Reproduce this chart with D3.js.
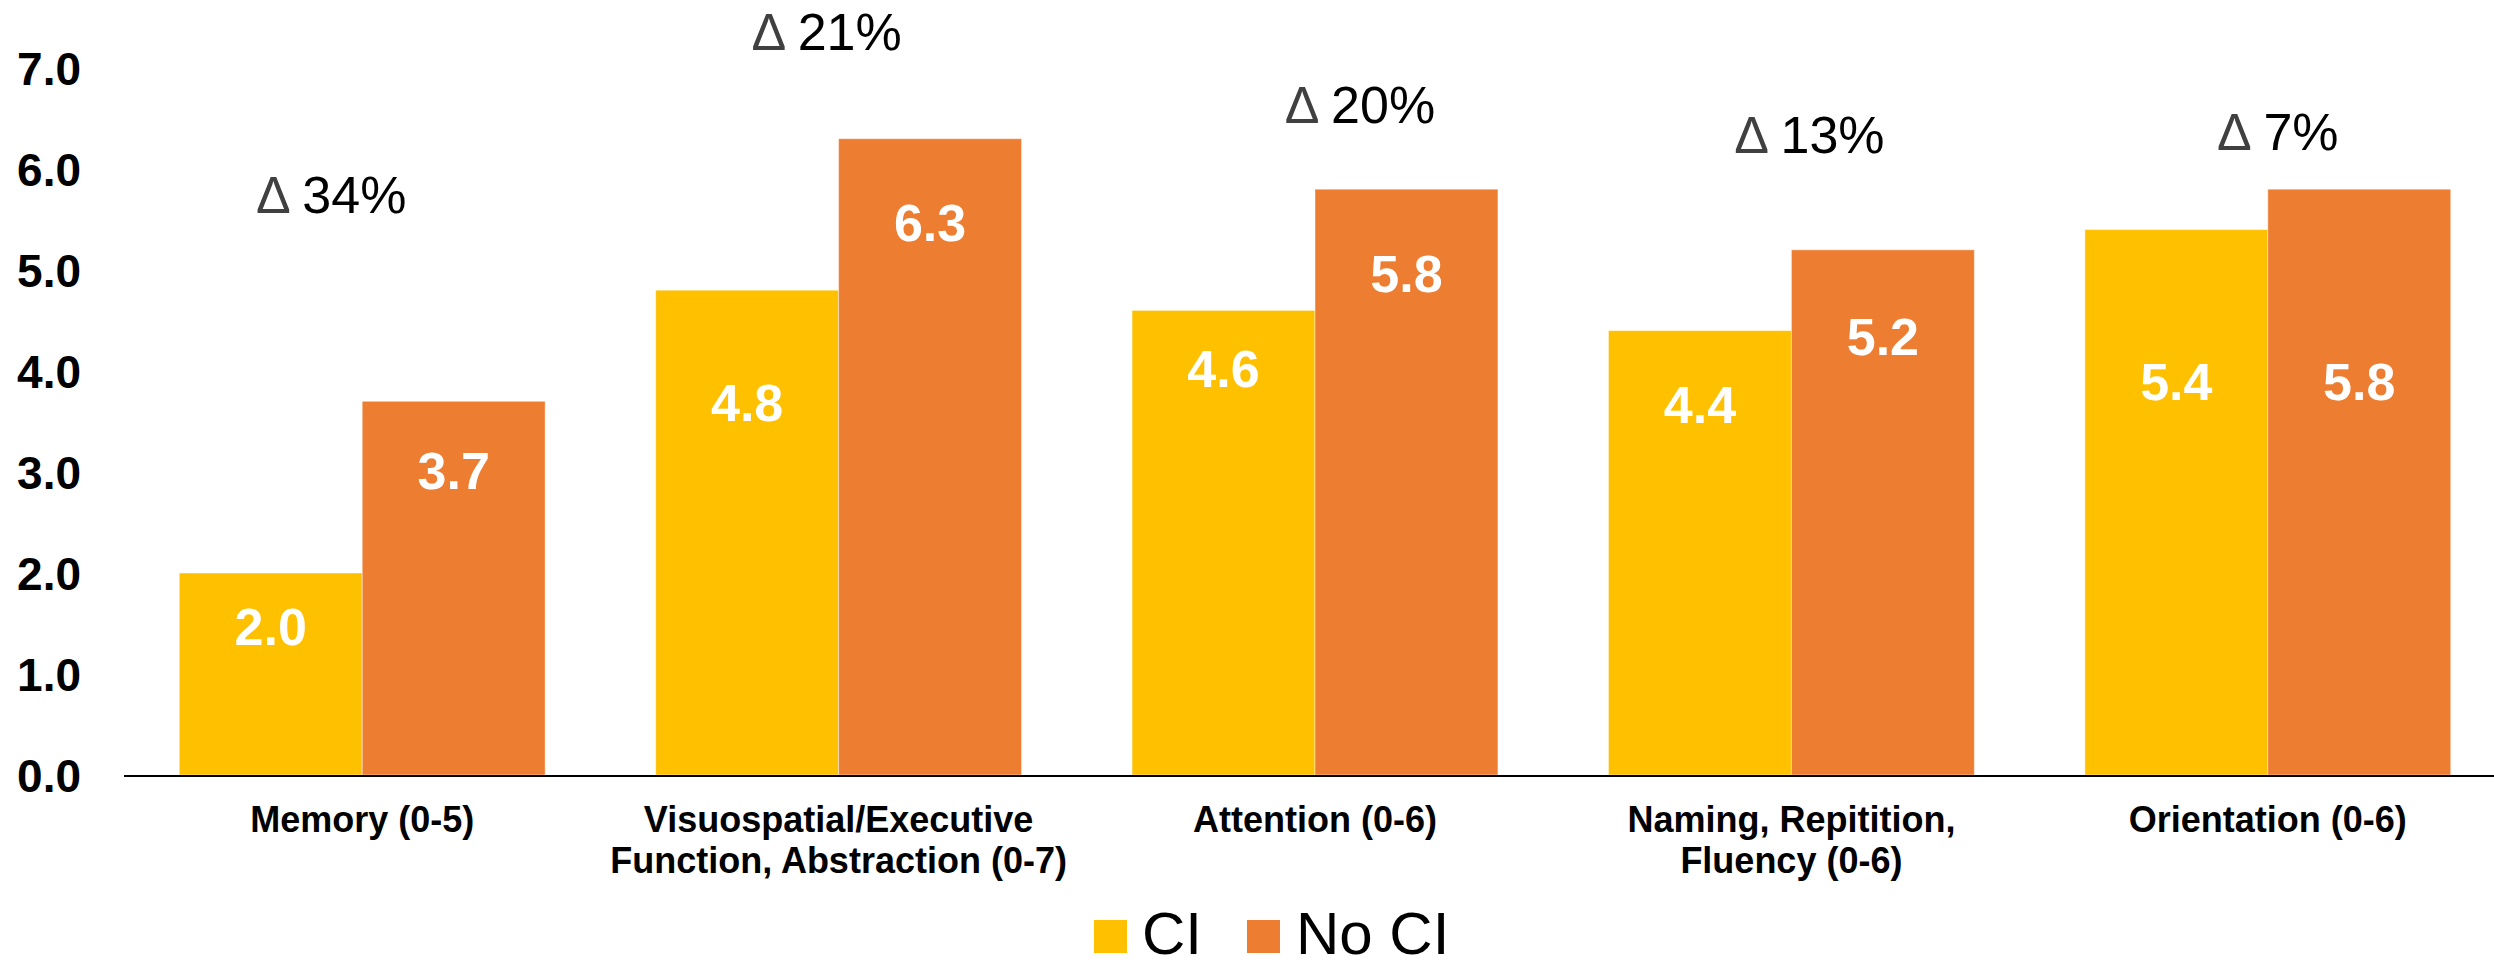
<!DOCTYPE html>
<html>
<head>
<meta charset="utf-8">
<script src="https://cdn.jsdelivr.net/npm/d3@7"></script>
<style>
  html, body { margin: 0; padding: 0; background: #fff; }
  svg { display: block; font-family: "Liberation Sans", Arial, sans-serif; }
</style>
</head>
<body>
<svg id="chart" width="2494" height="968"></svg>
<script>
// MoCA domain scores by group
const categories = [
  ["Memory (0-5)"],
  ["Visuospatial/Executive", "Function, Abstraction (0-7)"],
  ["Attention (0-6)"],
  ["Naming, Repitition,", "Fluency (0-6)"],
  ["Orientation (0-6)"]
];
const seriesNames = ["CI", "No CI"];
const ciValues = [2.0, 4.8, 4.6, 4.4, 5.4];
const noCiValues = [3.7, 6.3, 5.8, 5.2, 5.8];
const deltaLabels = ["34%", "21%", "20%", "13%", "7%"];
const yTicks = [0, 1, 2, 3, 4, 5, 6, 7];

// Layout: hand-placed annotation and label positions (value units / px offsets)
const deltaLayout = [
  { dx: -31, v: 5.56 },
  { dx: -12, v: 7.18 },
  { dx: 45, v: 6.46 },
  { dx: 18, v: 6.16 },
  { dx: 10, v: 6.19 }
];
const valueLabelPos = [
  [1.475, 3.02],
  [3.69, 5.47],
  [4.03, 4.97],
  [3.67, 4.34],
  [3.90, 3.90]
];

const colors = ["#FFC000", "#ED7D31"];

const svg = d3.select("#chart");
const x0 = 124, plotW = 2382, yBase = 775, yTop = 68;

const x = d3.scaleBand()
  .domain(d3.range(categories.length))
  .range([x0, x0 + plotW])
  .paddingInner(0.232)
  .paddingOuter(0.116);

const xs = d3.scaleBand()
  .domain(d3.range(seriesNames.length))
  .range([0, x.bandwidth()]);

const y = d3.scaleLinear().domain([0, 7]).range([yBase, yTop]);

const series = [ciValues, noCiValues];

// Bars
const groups = svg.append("g").selectAll("g")
  .data(categories.map((c, i) => i))
  .join("g")
  .attr("transform", i => `translate(${x(i)},0)`);

groups.selectAll("rect")
  .data(i => series.map((s, k) => ({ k, v: s[i], i })))
  .join("rect")
  .attr("x", d => xs(d.k))
  .attr("width", xs.bandwidth())
  .attr("y", d => y(d.v))
  .attr("height", d => y(0) - y(d.v))
  .attr("fill", d => colors[d.k])
  .attr("stroke", "#ffffff")
  .attr("stroke-opacity", 0.45)
  .attr("stroke-width", 1);

// Value labels inside bars
groups.selectAll("text.val")
  .data(i => series.map((s, k) => ({ k, v: s[i], i })))
  .join("text")
  .attr("class", "val")
  .attr("x", d => xs(d.k) + xs.bandwidth() / 2)
  .attr("y", d => y(valueLabelPos[d.i][d.k]))
  .attr("dy", "0.36em")
  .attr("text-anchor", "middle")
  .attr("fill", "#ffffff")
  .attr("font-weight", "bold")
  .attr("font-size", 52)
  .text(d => d3.format(".1f")(d.v));

// Baseline
svg.append("line")
  .attr("x1", x0).attr("x2", x0 + plotW)
  .attr("y1", yBase + 1).attr("y2", yBase + 1)
  .attr("stroke", "#000").attr("stroke-width", 2);

// Y axis (labels only)
const yAxis = svg.append("g")
  .attr("transform", `translate(${x0},0)`)
  .call(d3.axisLeft(y).tickValues(yTicks).tickFormat(d3.format(".1f")).tickSize(0).tickPadding(43));
yAxis.select(".domain").remove();
yAxis.selectAll("text")
  .attr("font-family", "Liberation Sans, Arial, sans-serif")
  .attr("font-size", 46)
  .attr("font-weight", "bold")
  .attr("fill", "#000")
  .attr("dy", "0.36em");

// Category labels
const catG = svg.append("g");
categories.forEach((lines, i) => {
  const t = catG.append("text")
    .attr("text-anchor", "middle")
    .attr("font-weight", "bold")
    .attr("font-size", 36)
    .attr("fill", "#000");
  lines.forEach((ln, j) => {
    t.append("tspan")
      .attr("x", x(i) + x.bandwidth() / 2)
      .attr("y", 832 + j * 41)
      .text(ln);
  });
});

// Delta annotations
deltaLabels.forEach((lab, i) => {
  const t = svg.append("text")
    .attr("x", x(i) + x.bandwidth() / 2 + deltaLayout[i].dx)
    .attr("y", y(deltaLayout[i].v))
    .attr("text-anchor", "middle")
    .attr("font-size", 52);
  t.append("tspan").attr("fill", "#404040").text("\u0394 ");
  t.append("tspan").attr("fill", "#000").text(lab);
});

// Legend
const legendItems = [
  { sx: 1094, tx: 1142 },
  { sx: 1247, tx: 1296 }
];
seriesNames.forEach((name, k) => {
  svg.append("rect")
    .attr("x", legendItems[k].sx).attr("y", 920)
    .attr("width", 33).attr("height", 33)
    .attr("fill", colors[k]);
  svg.append("text")
    .attr("x", legendItems[k].tx).attr("y", 954)
    .attr("font-size", 60)
    .attr("fill", "#000")
    .text(name);
});
</script>
</body>
</html>
